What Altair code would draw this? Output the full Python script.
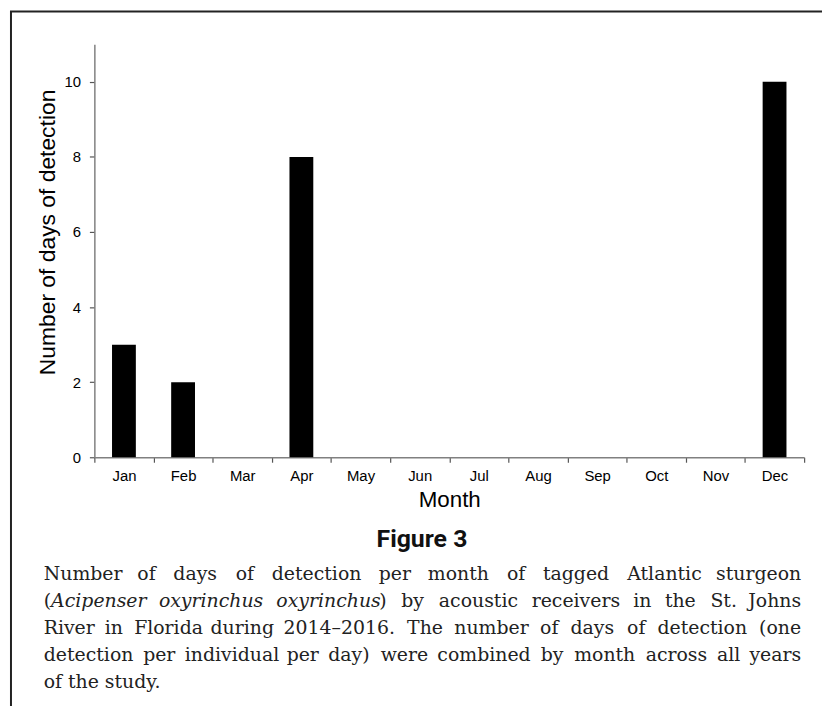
import altair as alt
import pandas as pd

months = ["Jan", "Feb", "Mar", "Apr", "May", "Jun", "Jul", "Aug", "Sep", "Oct", "Nov", "Dec"]
days = [3, 2, 0, 8, 0, 0, 0, 0, 0, 0, 0, 10]
y_ticks = [0, 2, 4, 6, 8, 10]

fig_label = "Figure 3"

# caption lines as printed (justified); *...* marks italic text
cap_lines = [
    "Number of days of detection per month of tagged Atlantic sturgeon",
    "(*Acipenser* *oxyrinchus* *oxyrinchus*) by acoustic receivers in the St. Johns",
    "River in Florida during 2014\u20132016. The number of days of detection (one",
    "detection per individual per day) were combined by month across all years",
    "of the study.",
]
cap_justified = [True, True, True, True, False]

df = pd.DataFrame({"month": months, "days": days})

W, H = 715, 416
PAD = {"left": 87, "top": 34, "right": 18, "bottom": 248}
OX, OY = 95, 42  # page position of plot origin

CAP_FS = 19
CAP_LEFT, CAP_RIGHT = 44, 807
CAP_BASE, CAP_GAP = 582, 27

# approximate advance widths (units per 2048 em) for justifying the caption
ADV = {" ": 651, "(": 799, ")": 799, ".": 651, "\u2013": 1024,
       "A": 1401, "F": 1180, "J": 604, "N": 1532, "R": 1423, "S": 1300, "T": 1251,
       "a": 1255, "b": 1300, "c": 1126, "d": 1300, "e": 1260, "f": 721, "g": 1300,
       "h": 1298, "i": 569, "l": 569, "m": 1995, "n": 1298, "o": 1253, "p": 1300,
       "r": 842, "s": 1067, "t": 803, "u": 1298, "v": 1212, "w": 1675, "x": 1212, "y": 1212}


def tw(s):
    return sum(ADV.get(c, 1303) for c in s) / 2048 * CAP_FS


bars = alt.Chart(df).mark_bar(color="black", size=24).encode(
    x=alt.X(
        "month:N",
        sort=months,
        scale=alt.Scale(paddingInner=0, paddingOuter=0),
        axis=alt.Axis(
            title="Month",
            labelAngle=0,
            tickBand="extent",
            domainColor="#808080",
            domainWidth=1.5,
            tickColor="#555555",
            tickWidth=1.2,
            tickSize=5,
            labelFont="Liberation Sans",
            labelFontSize=15,
            labelColor="black",
            labelPadding=6,
            titleFont="Liberation Sans",
            titleFontSize=22.5,
            titleFontWeight="normal",
            titleColor="black",
            titleBaseline="alphabetic",
            titleY=50,
            grid=False,
        ),
    ),
    y=alt.Y(
        "days:Q",
        scale=alt.Scale(domain=[0, 11], nice=False),
        axis=alt.Axis(
            title="Number of days of detection",
            values=y_ticks,
            domainColor="#808080",
            domainWidth=1.5,
            tickColor="#555555",
            tickWidth=1.2,
            tickSize=5,
            labelFont="Liberation Sans",
            labelFontSize=15,
            labelColor="black",
            labelPadding=9,
            titleFont="Liberation Sans",
            titleFontSize=23,
            titleFontWeight="normal",
            titleColor="black",
            titleAngle=270,
            titleAlign="center",
            titleBaseline="alphabetic",
            titleX=-40,
            titleY=189,
            grid=False,
        ),
    ),
)


def txt(s, x, y, align="left", size=CAP_FS, font="DejaVu Serif", style="normal", weight="normal", color="#222222"):
    return alt.Chart(alt.Data(values=[{}])).mark_text(
        text=s, align=align, baseline="alphabetic", font=font, fontSize=size,
        fontStyle=style, fontWeight=weight, color=color
    ).encode(x=alt.value(x), y=alt.value(y))


def rule(x1, x2, y1, y2, w):
    return alt.Chart(alt.Data(values=[{}])).mark_rule(color="#222222", strokeWidth=w).encode(
        x=alt.value(x1), x2=alt.value(x2), y=alt.value(y1), y2=alt.value(y2)
    )


layers = [
    bars,
    txt(fig_label, 425 - OX, 548 - OY, align="center", size=25, font="Roboto", weight="bold", color="#111111"),
]

for i, line in enumerate(cap_lines):
    yb = CAP_BASE + i * CAP_GAP - OY
    words = line.split(" ")
    # each word -> list of (segment, italic?)
    segs = []
    for w in words:
        parts = w.split("*")
        segs.append([(p, k % 2 == 1) for k, p in enumerate(parts) if p])
    widths = [sum(tw(p) for p, _ in s) for s in segs]
    if cap_justified[i] and len(words) > 1:
        gap = (CAP_RIGHT - CAP_LEFT - sum(widths)) / (len(words) - 1)
    else:
        gap = tw(" ")
    x = CAP_LEFT
    for j, s in enumerate(segs):
        if cap_justified[i] and j == len(segs) - 1 and len(s) == 1:
            layers.append(txt(s[0][0], CAP_RIGHT - OX, yb, align="right"))
        else:
            xs = x
            for p, it in s:
                layers.append(txt(p, xs - OX, yb, style="italic" if it else "normal"))
                xs += tw(p)
        x += widths[j] + gap

layers += [
    rule(-85, 735, -33, -33, 2),
    rule(-84, -84, -33, 700, 2),
]

chart = alt.layer(*layers).properties(
    width=W, height=H, padding=PAD, autosize="none"
).configure_view(stroke=None)

chart.save("out.html", embed_options={"renderer": "svg", "actions": False})
